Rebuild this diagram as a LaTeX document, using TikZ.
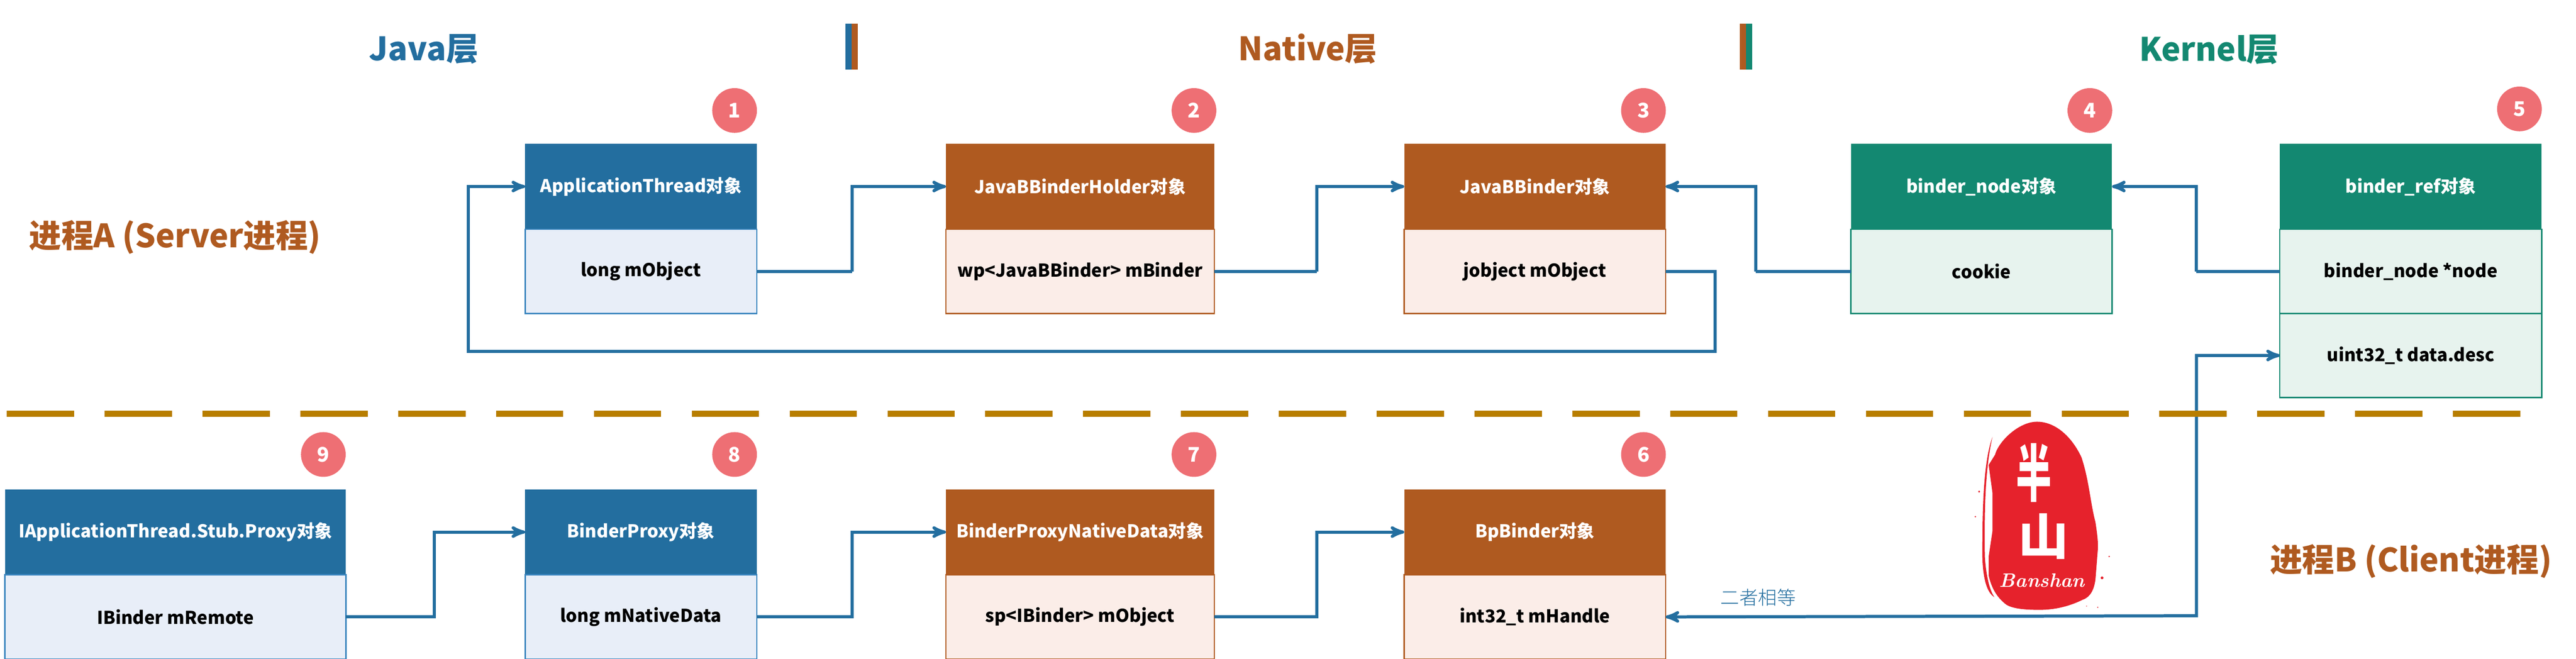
\documentclass[tikz,border=0pt]{standalone}
\usepackage{fontspec}
\setmainfont{Noto Sans CJK SC}
\newfontfamily\thinfont{Noto Sans CJK SC Light}
\newfontfamily\sealfont{Latin Modern Roman}
\usetikzlibrary{arrows}
\usetikzlibrary{positioning}

\definecolor{javacol}{HTML}{236E9F}
\definecolor{javabody}{HTML}{E8EEF8}
\definecolor{javaline}{HTML}{3A85BE}
\definecolor{nativecol}{HTML}{AF5A20}
\definecolor{nativebody}{HTML}{FBEDE8}
\definecolor{kernelcol}{HTML}{138871}
\definecolor{kernelbody}{HTML}{E7F3EE}
\definecolor{badgecol}{HTML}{EE6F74}
\definecolor{splitcol}{HTML}{B87E00}
\definecolor{sealcol}{HTML}{E6222C}

\tikzset{
  head/.style={rectangle,outer sep=0pt,inner sep=0pt,minimum height=2.24cm,text=white,
    font=\fontsize{13.2}{16}\selectfont\bfseries},
  field/.style={rectangle,draw,line width=1pt,outer sep=0pt,inner sep=0pt,minimum height=2.2cm,text=black,
    font=\fontsize{13.2}{16}\selectfont\bfseries},
  javahead/.style={head,fill=javacol},
  javafield/.style={field,fill=javabody,draw=javaline},
  nativehead/.style={head,fill=nativecol},
  nativefield/.style={field,fill=nativebody,draw=nativecol},
  kernelhead/.style={head,fill=kernelcol},
  kernelfield/.style={field,fill=kernelbody,draw=kernelcol},
  badge/.style={circle,fill=badgecol,text=white,inner sep=0pt,minimum size=1.17cm,
    font=\fontsize{15}{18}\selectfont\bfseries},
  layertitle/.style={font=\fontsize{24}{28}\selectfont\bfseries},
  proctitle/.style={font=\fontsize{24}{28}\selectfont\bfseries,text=nativecol},
  link/.style={draw=javacol,line width=2.3pt,->,>=stealth'},
  sealchar/.style={text=white,inner sep=0pt,transform shape,font=\fontsize{44}{48}\selectfont\bfseries},
}

\begin{document}
\begin{tikzpicture}[x=1cm,y=-1cm]

  \useasboundingbox (0,0) rectangle (67.4,17.24);

  \node [layertitle,text=javacol] (java_title) at (11.09,1.28) {Java层};
  \node [layertitle,text=nativecol] (native_title) at (34.22,1.28) {Native层};
  \node [layertitle,text=kernelcol] (kernel_title) at (57.80,1.30) {Kernel层};

  \fill [javacol] (22.12,0.62) rectangle (22.28,1.82);
  \fill [nativecol] (22.28,0.62) rectangle (22.44,1.82);
  \fill [nativecol] (45.52,0.62) rectangle (45.68,1.82);
  \fill [kernelcol] (45.68,0.62) rectangle (45.84,1.82);

  \node [proctitle] (proc_a) at (4.58,6.20) {进程A (Server进程)};
  \node [proctitle] (proc_b) at (63.08,14.68) {进程B (Client进程)};

  % upper row
  \node [javahead,minimum width=6.06cm,anchor=north west] (app_head) at (13.74,3.76) {ApplicationThread对象};
  \node [javafield,minimum width=6.06cm,below=0pt of app_head] (app_field) {long mObject};
  \node [nativehead,minimum width=7.02cm,anchor=north west] (holder_head) at (24.75,3.76) {JavaBBinderHolder对象};
  \node [nativefield,minimum width=7.02cm,below=0pt of holder_head] (holder_field) {wp<JavaBBinder> mBinder};
  \node [nativehead,minimum width=6.84cm,anchor=north west] (jbb_head) at (36.74,3.76) {JavaBBinder对象};
  \node [nativefield,minimum width=6.84cm,below=0pt of jbb_head] (jbb_field) {jobject mObject};
  \node [kernelhead,minimum width=6.83cm,anchor=north west] (bnode_head) at (48.43,3.76) {binder\_node对象};
  \node [kernelfield,minimum width=6.83cm,below=0pt of bnode_head] (bnode_field) {cookie};
  \node [kernelhead,minimum width=6.85cm,anchor=north west] (bref_head) at (59.65,3.76) {binder\_ref对象};
  \node [kernelfield,minimum width=6.85cm,below=0pt of bref_head] (bref_field) {binder\_node *node};
  \node [kernelfield,minimum width=6.85cm,below=0pt of bref_field] (bref_desc) {uint32\_t data.desc};

  % lower row
  \node [javahead,minimum width=8.92cm,anchor=north west] (stub_head) at (0.13,12.80) {IApplicationThread.Stub.Proxy对象};
  \node [javafield,minimum width=8.92cm,below=0pt of stub_head] (stub_field) {IBinder mRemote};
  \node [javahead,minimum width=6.06cm,anchor=north west] (proxy_head) at (13.74,12.80) {BinderProxy对象};
  \node [javafield,minimum width=6.06cm,below=0pt of proxy_head] (proxy_field) {long mNativeData};
  \node [nativehead,minimum width=7.02cm,anchor=north west] (data_head) at (24.75,12.80) {BinderProxyNativeData对象};
  \node [nativefield,minimum width=7.02cm,below=0pt of data_head] (data_field) {sp<IBinder> mObject};
  \node [nativehead,minimum width=6.84cm,anchor=north west] (bp_head) at (36.74,12.80) {BpBinder对象};
  \node [nativefield,minimum width=6.84cm,below=0pt of bp_head] (bp_field) {int32\_t mHandle};

  \node [badge] (badge_1) at (19.22,2.89) {1};
  \node [badge] (badge_2) at (31.24,2.89) {2};
  \node [badge] (badge_3) at (43.00,2.89) {3};
  \node [badge] (badge_4) at (54.68,2.89) {4};
  \node [badge] (badge_5) at (65.92,2.85) {5};
  \node [badge] (badge_6) at (43.00,11.89) {6};
  \node [badge] (badge_7) at (31.24,11.89) {7};
  \node [badge] (badge_8) at (19.22,11.89) {8};
  \node [badge] (badge_9) at (8.46,11.89) {9};

  % bends of the connectors
  \coordinate (bend_12) at (22.30,7.10);
  \coordinate (bend_23) at (34.46,7.10);
  \coordinate (bend_31a) at (44.88,9.19);
  \coordinate (bend_31b) at (12.25,9.19);
  \coordinate (bend_43) at (45.94,7.10);
  \coordinate (bend_54) at (57.46,7.10);
  \coordinate (bend_98) at (11.37,16.11);
  \coordinate (bend_87) at (22.30,16.11);
  \coordinate (bend_76) at (34.46,16.11);
  \coordinate (bend_65) at (57.47,16.11);

  \path [link] (app_field.east) -| (bend_12) |- (holder_head.west);
  \path [link] (holder_field.east) -| (bend_23) |- (jbb_head.west);
  \path [link] (jbb_field.east) -| (bend_31a) -- (bend_31b) |- (app_head.west);
  \path [link] (bnode_field.west) -| (bend_43) |- (jbb_head.east);
  \path [link] (bref_field.west) -| (bend_54) |- (bnode_head.east);
  \path [link] (stub_field.east) -| (bend_98) |- (proxy_head.west);
  \path [link] (proxy_field.east) -| (bend_87) |- (data_head.west);
  \path [link] (data_field.east) -| (bend_76) |- (bp_head.west);

  \path [link,<->] (bp_field.east) -- (bend_65) |- (bref_desc.west);
  \node [text=javacol,font=\fontsize{14}{16}\selectfont\thinfont] (equal_note) at (46.00,15.63) {二者相等};

  % splitter between the processes
  \coordinate (split_l) at (0.18,10.82);
  \coordinate (split_r) at (65.94,10.82);
  \draw [splitcol,line width=4.5pt,dash pattern=on 1.76cm off 0.80cm] (split_l) -- (split_r);

  % seal, coordinates are those of a 3x crop
  \begin{scope}[shift={(51.50,10.90)},x=0.003333cm,y=-0.003333cm]
    \fill [sealcol] (540,40)
      .. controls (680,40) and (810,150) .. (890,320)
      .. controls (950,500) and (960,680) .. (1000,830)
      .. controls (1010,900) and (1020,960) .. (1020,1030)
      -- (1000,1280)
      .. controls (990,1360) and (960,1420) .. (900,1440)
      .. controls (780,1500) and (660,1520) .. (560,1520)
      .. controls (440,1520) and (350,1510) .. (300,1480)
      .. controls (220,1420) and (180,1340) .. (160,1250)
      -- (160,1100) -- (190,900) -- (190,600) -- (160,380) -- (210,300)
      .. controls (240,190) and (400,40) .. (540,40) -- cycle;
    % streak on the left
    \fill [sealcol] (190,160)
      .. controls (120,350) and (110,700) .. (110,1100)
      .. controls (115,1260) and (140,1380) .. (205,1420)
      .. controls (170,1370) and (140,1260) .. (130,1100)
      .. controls (125,700) and (135,400) .. (190,160) -- cycle;
    % specks
    \fill [sealcol] (1108,1100) circle (6);
    \fill [sealcol] (1052,1268) circle (11);
    \fill [sealcol] (1018,1500) circle (5);
    \fill [sealcol] (930,1490) circle (4);
    \fill [sealcol] (85,590) circle (8);
    \fill [sealcol] (55,787) circle (6);
    \node [sealchar,xscale=0.6,yscale=1.05] (seal_ban) at (515,440) {半};
    \node [sealchar,xscale=0.85,yscale=0.82] (seal_shan) at (590,940) {山};
    \node [text=white,inner sep=0pt,font=\fontsize{14.5}{18}\selectfont\sealfont\bfseries\itshape] (seal_name) at (580,1290) {Banshan};
  \end{scope}

\end{tikzpicture}
\end{document}
